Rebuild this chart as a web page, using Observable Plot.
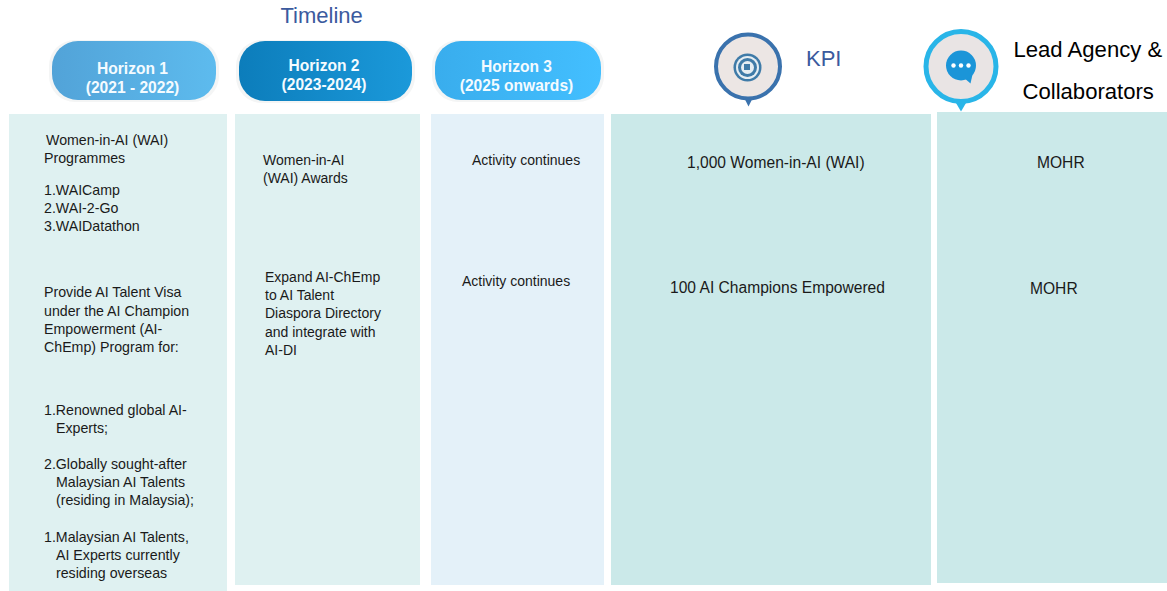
<!DOCTYPE html>
<html><head><meta charset="utf-8">
<script src="https://cdn.jsdelivr.net/npm/d3@7"></script>
<script src="https://cdn.jsdelivr.net/npm/@observablehq/plot@0.6"></script>
<style>html,body{margin:0;padding:0;background:#fff}svg{display:block}</style>
</head><body><div id="chart"></div>
<script>
// Content
const horizonNames = ["Horizon 1","Horizon 2","Horizon 3"];
const horizonYears = ["(2021 - 2022)","(2023-2024)","(2025 onwards)"];
const firstColumnLines = [
 "Women-in-AI (WAI)","Programmes","1.WAICamp","2.WAI-2-Go","3.WAIDatathon",
 "Provide AI Talent Visa","under the AI Champion","Empowerment (AI-","ChEmp) Program for:",
 "1.Renowned global AI-","Experts;","2.Globally sought-after","Malaysian AI Talents","(residing in Malaysia);",
 "1.Malaysian AI Talents,","AI Experts currently","residing overseas"];
const otherColumnLines = [
 "Women-in-AI","(WAI) Awards","Expand AI-ChEmp","to AI Talent","Diaspora Directory","and integrate with","AI-DI",
 "Activity continues","Activity continues"];
const kpiLines = ["1,000 Women-in-AI (WAI)","100 AI Champions Empowered","MOHR","MOHR"];

// Layout, in picture pixels
const firstX = [46,44,44,44,44,44,44,44,44,44,56,44,56,56,44,56,56];
const firstY = [140,158,190,208,226,292,311,329,347,410,428,464,482,500,537,555,573];
const otherX = [263,263,265,265,265,265,265,472,462];
const otherY = [160,178,277,295,313,332,350,160,281];
const kpiX = [687,670,1037,1030];
const kpiY = [162,287,162,288];
const panelX1 = [9,235,431,611,937];
const panelX2 = [227,420,604,931,1167];
const panelY1 = [114,114,114,114,112];
const panelY2 = [591,585,585,585,583];
const panelFill = ["#dff1f1","#dff1f1","#e4f1f9","#cbe9e9","#cbe9e9"];
const pillX1 = [52,239,435];
const pillX2 = [216,412,601];
const pillY1 = [41,41,41];
const pillY2 = [100,101,100];
const pillFrom = ["#52a3d8","#0c7dbb","#39aded"];
const pillTo = ["#5dbbee","#1b99da","#43bfff"];
const pillCx = [132,323.5,516];
const nameY = [68,65,66];
const yearY = [87,84,85];

const font = "Liberation Sans, Arial, sans-serif";
const idx = a => a.map((_, i) => i);

function defs() {
  const ns = "http://www.w3.org/2000/svg";
  const d = document.createElementNS(ns, "defs");
  pillFrom.forEach((c, i) => {
    const g = document.createElementNS(ns, "linearGradient");
    g.setAttribute("id", "pill" + i);
    [[0, c], [1, pillTo[i]]].forEach(([o, col]) => {
      const s = document.createElementNS(ns, "stop");
      s.setAttribute("offset", o); s.setAttribute("stop-color", col);
      g.appendChild(s);
    });
    d.appendChild(g);
  });
  return d;
}

const rings = [[14,"#3f7ba8"],[11.5,"#e6eef3"],[9.5,"#3f7ba8"],[6.5,"#e6eef3"]];
const bubbleDots = [953,960.5,968];

const chart = Plot.plot({
  width: 1167, height: 591, margin: 0,
  x: {domain: [0,1167], range:[0,1167], axis: null},
  y: {domain: [0,591], range:[0,591], axis: null},
  marks: [
    defs,
    Plot.rect(idx(panelX1), {x1:i=>panelX1[i], x2:i=>panelX2[i], y1:i=>panelY1[i], y2:i=>panelY2[i], fill:i=>panelFill[i]}),
    // pill halos and bodies
    ...idx(pillX1).map(i => Plot.rect([i], {x1:pillX1[i]-3, x2:pillX2[i]+3, y1:pillY1[i]-1, y2:pillY2[i]+2, rx:26, fill:"#f4f5f5"})),
    ...idx(pillX1).map(i => Plot.rect([i], {x1:pillX1[i], x2:pillX2[i], y1:pillY1[i], y2:pillY2[i], rx:26, fill:`url(#pill${i})`})),
    Plot.text(idx(pillCx), {x:i=>pillCx[i], y:i=>nameY[i], text:i=>horizonNames[i], fill:"#f4fbff", fontSize:15.6, fontWeight:"bold", fontFamily:font}),
    Plot.text(idx(pillCx), {x:i=>pillCx[i], y:i=>yearY[i], text:i=>horizonYears[i], fill:"#f4fbff", fontSize:15.6, fontWeight:"bold", fontFamily:font}),
    // headings
    Plot.text(["Timeline"], {x:280, y:15, text:d=>d, textAnchor:"start", fill:"#3b5a9e", fontSize:22, fontFamily:font}),
    Plot.text(["KPI"], {x:805.5, y:58, text:d=>d, textAnchor:"start", fill:"#3b5a9e", fontSize:22, fontFamily:font}),
    Plot.text(["Lead Agency &"], {x:1013, y:49, text:d=>d, textAnchor:"start", fill:"#000", fontSize:22.1, fontFamily:font}),
    Plot.text(["Collaborators"], {x:1022, y:91, text:d=>d, textAnchor:"start", fill:"#000", fontSize:22.1, fontFamily:font}),
    // KPI icon
    Plot.line([[744,98],[748,106],[752,98]], {x:d=>d[0], y:d=>d[1], fill:"#3a72ad", stroke:"none"}),
    Plot.dot([0], {x:747.5, y:66, r:32, fill:"#ece6e4", stroke:"#3a72ad", strokeWidth:4}),
    ...rings.map(([r,c]) => Plot.dot([0], {x:747, y:67, r, fill:c})),
    Plot.rect([0], {x1:744, x2:750, y1:64, y2:70, fill:"#3f7ba8"}),
    // Lead icon
    Plot.line([[954,100],[960.5,111],[967,100]], {x:d=>d[0], y:d=>d[1], fill:"#29b5e8", stroke:"none"}),
    Plot.dot([0], {x:960.5, y:66, r:35, fill:"#e9e4e4", stroke:"#29b5e8", strokeWidth:5}),
    Plot.line([[962,76],[970,83],[972,74]], {x:d=>d[0], y:d=>d[1], fill:"#1b95d8", stroke:"none"}),
    Plot.dot([0], {x:960.5, y:65, r:15, fill:"#1b95d8"}),
    Plot.dot(bubbleDots, {x:d=>d, y:65, r:2.2, fill:"#fff"}),
    // body text
    Plot.text(idx(firstColumnLines), {x:i=>firstX[i], y:i=>firstY[i], text:i=>firstColumnLines[i], textAnchor:"start", fill:"#1a1a1a", fontSize:14.2, fontFamily:font, dx:-0.5}),
    Plot.text(idx(otherColumnLines), {x:i=>otherX[i], y:i=>otherY[i], text:i=>otherColumnLines[i], textAnchor:"start", fill:"#1a1a1a", fontSize:14, fontFamily:font, dx:-0.5}),
    Plot.text(idx(kpiLines), {x:i=>kpiX[i], y:i=>kpiY[i], text:i=>kpiLines[i], textAnchor:"start", fill:"#1a1a1a", fontSize:15.6, fontFamily:font, dx:-0.5})
  ]
});
document.getElementById("chart").appendChild(chart);
</script></body></html>
